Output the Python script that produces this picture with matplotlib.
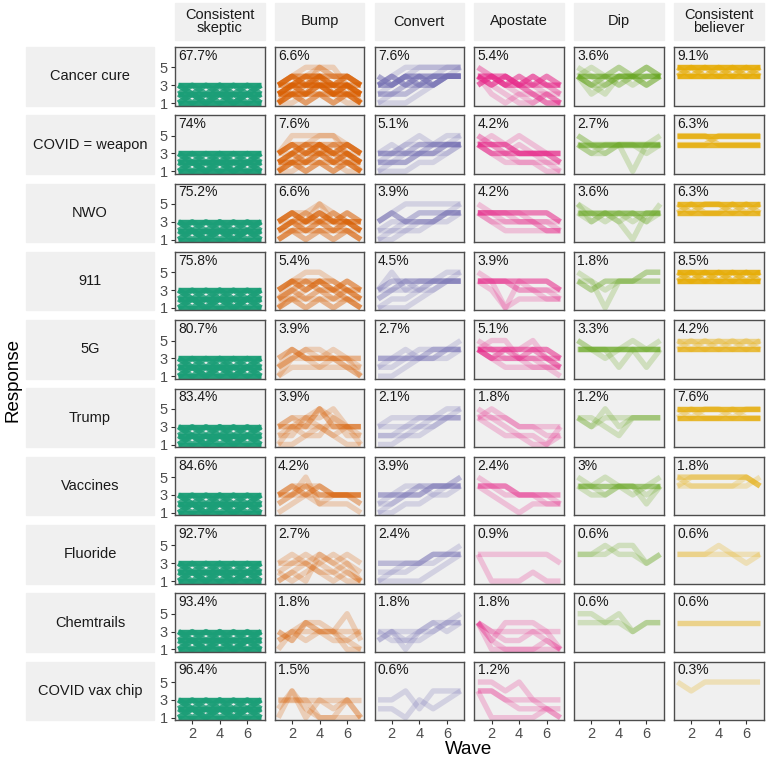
import matplotlib.pyplot as plt
from matplotlib.patches import Rectangle

plt.rcParams["font.family"] = ["Liberation Sans", "DejaVu Sans"]

beliefs = ["Cancer cure", "COVID = weapon", "NWO", "911", "5G", "Trump",
           "Vaccines", "Fluoride", "Chemtrails", "COVID vax chip"]
groups = ["Consistent\nskeptic", "Bump", "Convert", "Apostate", "Dip",
          "Consistent\nbeliever"]
colors = ["#1B9E77", "#D95F02", "#7570B3", "#E7298A", "#66A61E", "#E6AB02"]
waves = [1, 2, 3, 4, 5, 6, 7]

# share of respondents in each trajectory class (one entry per belief)
pct_skeptic = ["67.7%", "74%", "75.2%", "75.8%", "80.7%", "83.4%", "84.6%", "92.7%", "93.4%", "96.4%"]
pct_bump = ["6.6%", "7.6%", "6.6%", "5.4%", "3.9%", "3.9%", "4.2%", "2.7%", "1.8%", "1.5%"]
pct_convert = ["7.6%", "5.1%", "3.9%", "4.5%", "2.7%", "2.1%", "3.9%", "2.4%", "1.8%", "0.6%"]
pct_apostate = ["5.4%", "4.2%", "4.2%", "3.9%", "5.1%", "1.8%", "2.4%", "0.9%", "1.8%", "1.2%"]
pct_dip = ["3.6%", "2.7%", "3.6%", "1.8%", "3.3%", "1.2%", "3%", "0.6%", "0.6%", ""]
pct_believer = ["9.1%", "6.3%", "6.3%", "8.5%", "4.2%", "7.6%", "1.8%", "0.6%", "0.6%", "0.3%"]

# trajectories: response at waves 1..7 written as a string, with how many people share it
skeptic_paths = [("1111111", 12), ("2222222", 12), ("3333333", 12),
                 ("1212121", 6), ("2121212", 6), ("2323232", 6), ("3232323", 6),
                 ("1213121", 3), ("3212123", 3)]

bump_paths = [
    [("3434343", 4), ("2323232", 4), ("1212121", 3), ("3444443", 3), ("2333332", 4),
     ("1222221", 3), ("3455443", 1), ("2345432", 1), ("1343231", 2), ("3335533", 1), ("2224222", 2),
     ("2233322", 2), ("3344333", 2), ("1123211", 1)],
    [("3434343", 4), ("2323232", 3), ("1212121", 3), ("2343432", 2), ("3444443", 2),
     ("1222221", 2), ("3555543", 1), ("2345532", 1), ("1334331", 1), ("2224232", 1),
     ("2233322", 2), ("3344333", 1), ("1123211", 1)],
    [("3434343", 3), ("2323232", 3), ("1212121", 2), ("3433433", 2), ("2343332", 2),
     ("1222221", 2), ("3445433", 1), ("2334332", 1), ("3335333", 1), ("2234322", 1)],
    [("3434343", 3), ("2323232", 2), ("1212121", 2), ("3444433", 2), ("2343332", 1),
     ("1222221", 1), ("2455432", 1), ("1343321", 1), ("2234322", 1)],
    [("3433333", 2), ("2432222", 1), ("1343321", 1), ("2333432", 1), ("1222321", 1), ("2344331", 1)],
    [("3335333", 2), ("3433333", 1), ("2323232", 1), ("1343211", 1), ("2245422", 1),
     ("1122431", 1), ("3444533", 1)],
    [("3434333", 2), ("3343333", 2), ("2333332", 1), ("2352332", 1), ("1232221", 1), ("3444333", 1)],
    [("3434343", 1), ("1232121", 1), ("2343232", 1), ("1214321", 1), ("3332211", 1), ("2123431", 1)],
    [("2323333", 1), ("3243323", 1), ("1343352", 1), ("2333221", 1), ("3244311", 1)],
    [("1413231", 1), ("3331131", 1), ("2421111", 1), ("3333333", 1)],
]

convert_paths = [
    [("3434344", 4), ("4343444", 3), ("3344444", 3), ("2233344", 2), ("1223345", 1),
     ("3345555", 1), ("2344455", 1), ("1112344", 1), ("2223444", 1), ("3455555", 1)],
    [("3333444", 2), ("2223344", 2), ("3434444", 1), ("2334445", 1), ("1223344", 1),
     ("3344455", 1), ("2233334", 1), ("3345444", 1), ("1112234", 1)],
    [("3433344", 3), ("2334444", 1), ("3455555", 1), ("1122344", 1), ("2223334", 1), ("1234445", 1)],
    [("3444444", 2), ("3534444", 1), ("2333444", 1), ("1223344", 1), ("2344455", 1),
     ("1112345", 1), ("3343444", 1)],
    [("3333344", 2), ("2333445", 1), ("2234444", 1), ("1123334", 1), ("3343444", 1)],
    [("3333344", 1), ("2223444", 1), ("1122344", 1), ("3444455", 1), ("2234445", 1)],
    [("3333444", 2), ("2233444", 1), ("1234445", 1), ("2344445", 1), ("1122334", 1), ("3334344", 1)],
    [("3333444", 2), ("2233344", 1), ("1223445", 1), ("1111234", 1)],
    [("2323344", 1), ("3222345", 1), ("2313434", 1), ("3333444", 1)],
    [("3342444", 1), ("2213234", 1)],
]

apostate_paths = [
    [("4343433", 4), ("3434343", 3), ("4433332", 2), ("5443322", 1), ("4432211", 1),
     ("4321121", 1), ("5433211", 1), ("4443221", 1), ("3443211", 1), ("4212121", 1)],
    [("4443333", 3), ("4333332", 2), ("5443322", 1), ("4545433", 1), ("4332221", 1),
     ("5433332", 1), ("4322211", 1), ("4434333", 1)],
    [("4444443", 3), ("4333333", 1), ("5444332", 1), ("4433322", 1), ("4443322", 1), ("4322222", 1)],
    [("4444443", 3), ("4443333", 1), ("4312222", 1), ("5443322", 1), ("4414332", 1)],
    [("4444443", 3), ("4333332", 2), ("4343433", 2), ("4553322", 1), ("4444532", 1),
     ("5433222", 1), ("4322221", 1)],
    [("4443333", 1), ("4543322", 1), ("4322213", 1), ("5432112", 1)],
    [("4443333", 2), ("4433332", 1), ("4321222", 1), ("5443322", 1)],
    [("4444443", 1), ("4111211", 1)],
    [("4333333", 1), ("4244431", 1), ("4211111", 1), ("4322321", 1), ("4111121", 1)],
    [("5545333", 1), ("4433322", 1), ("4111121", 1), ("4432221", 1)],
]

dip_paths = [
    [("4444444", 3), ("4343434", 2), ("4545454", 1), ("5434454", 1), ("4234444", 1),
     ("4324344", 1), ("4445454", 1), ("4334434", 1)],
    [("4444444", 3), ("4344444", 1), ("5434444", 1), ("4444145", 1), ("4334444", 1), ("5444434", 1)],
    [("4444444", 3), ("4343434", 1), ("5434344", 1), ("4443144", 1), ("5344435", 1)],
    [("4344444", 2), ("4414455", 1), ("5434455", 1)],
    [("4444444", 3), ("5444445", 1), ("4442444", 1), ("4444424", 1), ("5434544", 1)],
    [("4344444", 1), ("4353444", 1), ("4432444", 1)],
    [("4444444", 3), ("4334434", 1), ("4454424", 1), ("5434345", 1)],
    [("4454434", 1), ("4445534", 1)],
    [("5545344", 1), ("4444344", 1)],
    [],
]

believer_paths = [
    [("5555555", 8), ("4444444", 8), ("5454545", 3), ("4545454", 3)],
    [("5555555", 6), ("4444444", 6), ("4445555", 2), ("5554444", 2)],
    [("5555555", 6), ("4444444", 6), ("5455454", 2), ("4544545", 2)],
    [("5555555", 8), ("4444444", 8), ("5454545", 3), ("4545454", 3)],
    [("4444444", 5), ("5555555", 2), ("5454545", 1), ("4545454", 1)],
    [("5555555", 6), ("4444444", 6), ("5455455", 1), ("4544544", 1)],
    [("5555554", 2), ("4444445", 1), ("4555554", 1), ("5444454", 1)],
    [("4444434", 1), ("4445444", 1)],
    [("4444444", 2)],
    [("5455555", 1)],
]

all_paths = [[skeptic_paths] * 10, bump_paths, convert_paths, apostate_paths, dip_paths, believer_paths]
all_pcts = [pct_skeptic, pct_bump, pct_convert, pct_apostate, pct_dip, pct_believer]

W, H = 768, 762
fig = plt.figure(figsize=(W / 100, H / 100), dpi=100)
strip_col = "#f0f0f0"
text_col = "#1a1a1a"


def px_box(x, y, w, h):
    # pixel box (top-left origin) -> figure fraction
    return [x / W, 1 - (y + h) / H, w / W, h / H]


col_x0, col_dx, pw = 175, 99.8, 89.5
row_y0, row_dy, ph = 47, 68.3, 58.5

for i, belief in enumerate(beliefs):
    y_top = row_y0 + i * row_dy
    # row strip on the left
    fig.patches.append(Rectangle((26 / W, 1 - (y_top + ph) / H), 128 / W, ph / H,
                                 transform=fig.transFigure, color=strip_col, zorder=0))
    fig.text(90 / W, 1 - (y_top + ph / 2) / H, belief, ha="center", va="center",
             fontsize=10.5, color=text_col)
    for j in range(6):
        ax = fig.add_axes(px_box(col_x0 + j * col_dx, y_top, pw, ph))
        ax.set_facecolor(strip_col)
        for path, n in all_paths[j][i]:
            ys = [int(c) for c in path]
            ax.plot(waves, ys, color=colors[j], lw=3.9, alpha=1 - (1 - 0.24) ** n,
                    solid_capstyle="butt", solid_joinstyle="round")
        pct = all_pcts[j][i]
        if pct:
            ax.text(0.98, 5.85, pct, ha="left", va="baseline", fontsize=10, color=text_col)
        ax.set_xlim(0.75, 7.25)
        ax.set_ylim(0.72, 7.28)
        for s in ax.spines.values():
            s.set_color("#4d4d4d")
            s.set_linewidth(1.0)
        ax.tick_params(length=3, color="#333333", labelsize=10.5, labelcolor="#4d4d4d", pad=2)
        if j == 0:
            ax.set_yticks([1, 3, 5])
        else:
            ax.set_yticks([])
        if i == len(beliefs) - 1:
            ax.set_xticks([2, 4, 6])
        else:
            ax.set_xticks([])

# column strips on top
for j, g in enumerate(groups):
    x0 = col_x0 + j * col_dx
    fig.patches.append(Rectangle((x0 / W, 1 - 39.5 / H), pw / W, 36 / H,
                                 transform=fig.transFigure, color=strip_col, zorder=0))
    fig.text((x0 + pw / 2) / W, 1 - 21.5 / H, g, ha="center", va="center",
             fontsize=10.5, color=text_col, linespacing=0.95)

fig.text(13 / W, 1 - 380 / H, "Response", rotation=90, ha="center", va="center",
         fontsize=13.5, color="black")
fig.text(469 / W, 1 - 750 / H, "Wave", ha="center", va="center",
         fontsize=13.5, color="black")

fig.savefig("out.png", dpi=100, facecolor="white")
